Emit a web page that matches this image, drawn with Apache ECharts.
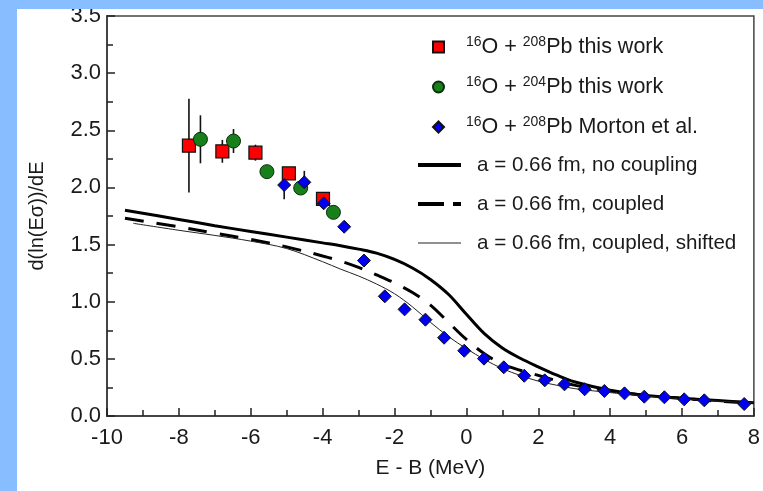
<!DOCTYPE html>
<html>
<head>
<meta charset="utf-8">
<script src="https://cdn.jsdelivr.net/npm/echarts@6/dist/echarts.min.js"></script>
<style>
  html, body { margin: 0; padding: 0; background: #fff; }
  #chart { width: 763px; height: 491px; }
</style>
</head>
<body>
<div id="chart"></div>
<script>
// Measured points: [E - B (MeV), d(ln(E sigma))/dE]
const pb208ThisWork = [[-7.72, 2.365], [-6.79, 2.316], [-5.87, 2.304], [-4.94, 2.123], [-3.99, 1.899]];
const pb208ThisWorkErr = [0.41, 0.10, 0.07, 0, 0];

const pb204ThisWork = [[-7.40, 2.421], [-6.48, 2.406], [-5.55, 2.138], [-4.61, 1.995], [-3.70, 1.782]];
const pb204ThisWorkErr = [0.21, 0.105, 0, 0, 0];

const pb208Morton = [
  [-5.07, 2.021], [-4.51, 2.045], [-3.97, 1.861], [-3.40, 1.656], [-2.85, 1.360],
  [-2.27, 1.047], [-1.72, 0.933], [-1.14, 0.843], [-0.62, 0.685], [-0.06, 0.571],
  [0.49, 0.502], [1.04, 0.426], [1.61, 0.352], [2.18, 0.312], [2.73, 0.277],
  [3.29, 0.234], [3.84, 0.219], [4.40, 0.198], [4.95, 0.169], [5.51, 0.164],
  [6.06, 0.146], [6.62, 0.137], [7.73, 0.105]
];
const pb208MortonErr = [0.125, 0.10];

// Calculations
const calcE = [-9.5, -8, -7, -6, -5, -4, -3.5, -3, -2.5, -2, -1.5, -1, -0.5, 0, 0.5, 1, 1.5, 2, 2.5, 3, 4, 5, 6, 7, 8];
const noCoupling = [1.80, 1.72, 1.665, 1.615, 1.565, 1.515, 1.49, 1.46, 1.425, 1.37, 1.295, 1.195, 1.065, 0.89, 0.72, 0.595, 0.505, 0.43, 0.36, 0.30, 0.225, 0.18, 0.155, 0.135, 0.115];
const coupled = [1.73, 1.655, 1.60, 1.545, 1.48, 1.40, 1.355, 1.30, 1.235, 1.165, 1.08, 0.97, 0.82, 0.67, 0.545, 0.455, 0.40, 0.355, 0.31, 0.27, 0.22, 0.18, 0.155, 0.13, 0.115];
const shiftedE = [-9.27, -8, -7, -6, -5, -4, -3.5, -3, -2.5, -2, -1.5, -1, -0.5, 0, 0.5, 1, 1.5, 2, 2.5, 3, 4, 5, 6, 7, 8];
const coupledShifted = [1.686, 1.625, 1.58, 1.53, 1.465, 1.35, 1.285, 1.225, 1.155, 1.07, 0.955, 0.82, 0.695, 0.59, 0.495, 0.415, 0.355, 0.305, 0.27, 0.24, 0.205, 0.175, 0.15, 0.13, 0.115];

const xTicks = { min: -10, max: 8, step: 2 };
const yTicks = { min: 0, max: 3.5, step: 0.5 };

const names = {
  red: '16O + 208Pb this work',
  green: '16O + 204Pb this work',
  blue: '16O + 208Pb Morton et al.',
  solid: 'a = 0.66 fm, no coupling',
  dashed: 'a = 0.66 fm, coupled',
  thin: 'a = 0.66 fm, coupled, shifted'
};

const FONT = '"Liberation Sans", Arial, Helvetica, sans-serif';
const INK = '#1a1a1a';

const zip = (xs, ys) => xs.map((x, i) => [x, ys[i]]);
const withErr = (pts, errs) => pts.map((p, i) => [p[0], p[1], errs[i] || 0]).filter(p => p[2] > 0);

const errorBars = [].concat(
  withErr(pb208ThisWork, pb208ThisWorkErr),
  withErr(pb204ThisWork, pb204ThisWorkErr),
  withErr(pb208Morton, pb208MortonErr)
);

const supFormat = n => n.replace(/(\d+)(O|Pb)/g, '{sup|$1}$2');

const axisCommon = {
  axisLine: { show: true, onZero: false, lineStyle: { color: '#444', width: 2 } },
  axisTick: { show: true, inside: true, length: 8, lineStyle: { color: '#222', width: 1.5 } },
  minorTick: { show: true, splitNumber: 2, length: 6, lineStyle: { color: '#222', width: 1.5 } },
  splitLine: { show: false }
};

const chart = echarts.init(document.getElementById('chart'), null, { renderer: 'canvas' });

chart.setOption({
  animation: false,
  backgroundColor: '#ffffff',
  textStyle: { fontFamily: FONT, color: INK },
  grid: {
    left: 107, right: 6, top: 16, bottom: 75,
    show: true, borderColor: '#444', borderWidth: 1.5, backgroundColor: 'transparent'
  },
  xAxis: Object.assign({
    type: 'value', min: xTicks.min, max: xTicks.max, interval: xTicks.step,
    name: 'E - B (MeV)', nameLocation: 'middle', nameGap: 42,
    nameTextStyle: { fontSize: 21, color: INK, fontFamily: FONT },
    axisLabel: { fontSize: 22, color: INK, margin: 11, fontFamily: FONT }
  }, axisCommon),
  yAxis: Object.assign({
    type: 'value', min: yTicks.min, max: yTicks.max, interval: yTicks.step,
    name: 'd(ln(Eσ))/dE', nameLocation: 'middle', nameGap: 60,
    nameTextStyle: { fontSize: 20, color: INK, fontFamily: FONT },
    axisLabel: { fontSize: 22, color: INK, margin: 6, fontFamily: FONT, formatter: v => v.toFixed(1) }
  }, axisCommon),
  legend: [
    {
      orient: 'vertical', left: 432, top: 35, padding: 0,
      itemWidth: 11, itemHeight: 11, itemGap: 16, selectedMode: false,
      data: [
        { name: names.red, icon: 'rect' },
        { name: names.green, icon: 'circle' },
        { name: names.blue, icon: 'diamond' }
      ],
      formatter: supFormat,
      textStyle: {
        fontSize: 21.5, lineHeight: 24, color: INK, fontFamily: FONT, padding: [0, 0, 0, 17],
        rich: { sup: { fontSize: 14, lineHeight: 13, verticalAlign: 'top', color: INK, fontFamily: FONT } }
      }
    },
    {
      orient: 'vertical', left: 416, top: 154, padding: 0,
      itemWidth: 43, itemHeight: 10, itemGap: 17, selectedMode: false,
      itemStyle: { opacity: 0 },
      data: [
        { name: names.solid, lineStyle: { width: 4 } },
        { name: names.dashed, lineStyle: { width: 4, type: [26, 9] } },
        { name: names.thin, lineStyle: { width: 1.2, color: '#222' } }
      ],
      textStyle: { fontSize: 20.6, lineHeight: 22, color: INK, fontFamily: FONT, padding: [0, 0, 0, 11] }
    }
  ],
  series: [
    {
      name: names.solid, type: 'line', data: zip(calcE, noCoupling),
      showSymbol: false, symbol: 'none', smooth: 0.35,
      lineStyle: { color: '#000', width: 3 }, itemStyle: { color: '#000' }, z: 2
    },
    {
      name: names.dashed, type: 'line', data: zip(calcE, coupled),
      showSymbol: false, symbol: 'none', smooth: 0.35,
      lineStyle: { color: '#000', width: 3, type: [19, 13] }, itemStyle: { color: '#000' }, z: 2
    },
    {
      name: names.thin, type: 'line', data: zip(shiftedE, coupledShifted),
      showSymbol: false, symbol: 'none', smooth: 0.35,
      lineStyle: { color: '#222', width: 1 }, itemStyle: { color: '#222' }, z: 2
    },
    {
      name: 'error bars', type: 'custom', data: errorBars, z: 3,
      renderItem: (params, api) => {
        const x = api.value(0), y = api.value(1), e = api.value(2);
        const a = api.coord([x, y + e]);
        const b = api.coord([x, y - e]);
        return {
          type: 'line',
          shape: { x1: a[0], y1: a[1], x2: b[0], y2: b[1] },
          style: { stroke: '#111', lineWidth: 1.6 }
        };
      }
    },
    {
      name: names.red, type: 'scatter', data: pb208ThisWork, symbol: 'rect', symbolSize: 13,
      itemStyle: { color: '#ff0000', borderColor: '#111', borderWidth: 1.2, opacity: 1 }, z: 4
    },
    {
      name: names.green, type: 'scatter', data: pb204ThisWork, symbol: 'circle', symbolSize: 14,
      itemStyle: { color: '#17801a', borderColor: '#0b2e0b', borderWidth: 1, opacity: 1 }, z: 5
    },
    {
      name: names.blue, type: 'scatter', data: pb208Morton, symbol: 'diamond', symbolSize: 13,
      itemStyle: { color: '#0000ee', borderColor: '#111', borderWidth: 1, opacity: 1 }, z: 6
    }
  ],
  graphic: [
    { type: 'rect', z: 100, silent: true, shape: { x: 0, y: 0, width: 763, height: 9 }, style: { fill: '#88beff' } },
    { type: 'rect', z: 100, silent: true, shape: { x: 0, y: 0, width: 17, height: 491 }, style: { fill: '#88beff' } }
  ]
});
</script>
</body>
</html>
